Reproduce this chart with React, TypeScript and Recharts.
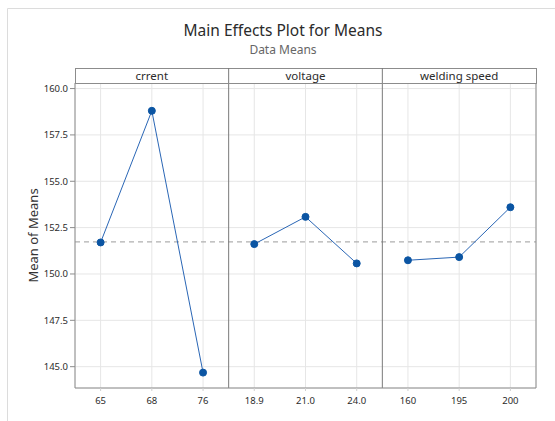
import {
  LineChart,
  Line,
  XAxis,
  YAxis,
  CartesianGrid,
  ReferenceLine,
} from "recharts";

const factors = ["crrent", "voltage", "welding speed"];
const currentLevels = ["65", "68", "76"];
const currentMeans = [151.7, 158.8, 144.68];
const voltageLevels = ["18.9", "21.0", "24.0"];
const voltageMeans = [151.61, 153.08, 150.57];
const speedLevels = ["160", "195", "200"];
const speedMeans = [150.74, 150.91, 153.6];
const yTicks = [145, 147.5, 150, 152.5, 155, 157.5, 160];
const grandMean = 151.73;

const W = 555;
const H = 421;
const PLOT_LEFT = 75;
const PLOT_RIGHT = 536;
const PLOT_TOP = 83;
const HEADER_TOP = 68;
const BLUE = "#0b55a3";
const FONT = "'Noto Sans', 'Open Sans', sans-serif";

const allLevels = [...currentLevels, ...voltageLevels, ...speedLevels];
const xTicks = allLevels.map((_, i) => i + 0.5);

// each factor is one panel of 3 slots on a shared numeric x axis
const panelData = (means: number[], panel: number) =>
  means.map((y, i) => ({ x: panel * 3 + i + 0.5, y }));

const series = [
  panelData(currentMeans, 0),
  panelData(voltageMeans, 1),
  panelData(speedMeans, 2),
];

export default function App() {
  const panelW = (PLOT_RIGHT - PLOT_LEFT) / factors.length;
  return (
    <div
      style={{
        position: "absolute",
        left: 0,
        top: 0,
        width: W,
        height: H,
        background: "#fff",
        fontFamily: FONT,
      }}
    >
      <LineChart
        width={W}
        height={H}
        margin={{ top: PLOT_TOP, right: W - PLOT_RIGHT, bottom: 8, left: 15 }}
      >
        <CartesianGrid stroke="#e6e6e6" />
        <XAxis
          dataKey="x"
          type="number"
          domain={[0, 9]}
          ticks={xTicks}
          interval={0}
          height={25}
          tickFormatter={(v: number) => allLevels[Math.floor(v)]}
          tick={{ fontSize: 9.5, fill: "#2b2b2b", fontFamily: FONT }}
          tickSize={3}
          tickMargin={6}
          tickLine={{ stroke: "#d0d0d0" }}
          axisLine={{ stroke: "#8c8c8c" }}
        />
        <YAxis
          type="number"
          domain={[143.85, 160.3]}
          allowDataOverflow
          ticks={yTicks}
          interval={0}
          width={60}
          tickFormatter={(v: number) => v.toFixed(1)}
          tick={{ fontSize: 9.5, fill: "#2b2b2b", fontFamily: FONT }}
          tickSize={5}
          tickLine={{ stroke: "#8c8c8c" }}
          axisLine={{ stroke: "#8c8c8c" }}
          label={{
            value: "Mean of Means",
            angle: -90,
            position: "insideLeft",
            offset: 18,
            style: { fontSize: 13, fill: "#333", fontFamily: FONT, textAnchor: "middle" },
          }}
        />
        <ReferenceLine
          y={grandMean}
          stroke="#b0b0b0"
          strokeWidth={1.3}
          strokeDasharray="5 4"
        />
        <ReferenceLine x={3} stroke="#7a7a7a" />
        <ReferenceLine x={6} stroke="#7a7a7a" />
        <ReferenceLine x={9} stroke="#8c8c8c" />
        {series.map((d, i) => (
          <Line
            key={factors[i]}
            data={d}
            dataKey="y"
            stroke="#2a66b5"
            strokeWidth={1}
            dot={{ r: 3.5, fill: BLUE, stroke: BLUE, strokeWidth: 1 }}
            isAnimationActive={false}
          />
        ))}
      </LineChart>
      <svg
        width={W}
        height={H}
        style={{ position: "absolute", left: 0, top: 0, pointerEvents: "none" }}
      >
        <line x1={7.5} y1={8.5} x2={W} y2={8.5} stroke="#dcdcdc" />
        <line x1={7.5} y1={8.5} x2={7.5} y2={H} stroke="#dcdcdc" />
        <text
          x={283}
          y={36}
          textAnchor="middle"
          fontSize={15.5}
          fill="#2b2b2b"
          fontFamily={FONT}
        >
          Main Effects Plot for Means
        </text>
        <text
          x={283}
          y={54}
          textAnchor="middle"
          fontSize={12}
          fill="#666"
          fontFamily={FONT}
        >
          Data Means
        </text>
        <rect
          x={PLOT_LEFT + 0.5}
          y={HEADER_TOP + 0.5}
          width={PLOT_RIGHT - PLOT_LEFT}
          height={PLOT_TOP - HEADER_TOP}
          fill="#fff"
          stroke="#8c8c8c"
        />
        {factors.map((f, i) => (
          <g key={f}>
            {i > 0 && (
              <line
                x1={PLOT_LEFT + panelW * i}
                x2={PLOT_LEFT + panelW * i}
                y1={HEADER_TOP}
                y2={PLOT_TOP}
                stroke="#7a7a7a"
              />
            )}
            <text
              x={PLOT_LEFT + panelW * (i + 0.5)}
              y={80}
              textAnchor="middle"
              fontSize={11.5}
              fill="#2b2b2b"
              fontFamily={FONT}
            >
              {f}
            </text>
          </g>
        ))}
      </svg>
    </div>
  );
}
